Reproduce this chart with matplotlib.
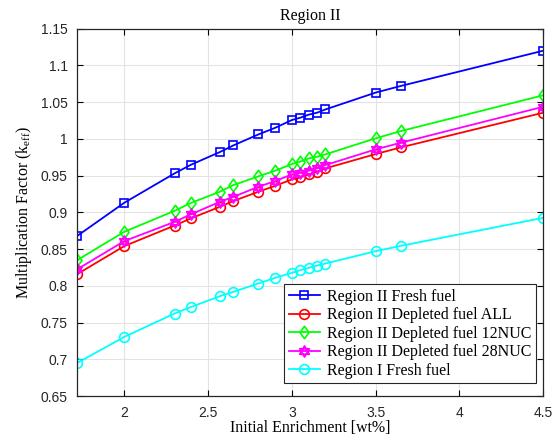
import numpy as np
import matplotlib
matplotlib.use('Agg')
import matplotlib.pyplot as plt
from matplotlib.path import Path
from matplotlib.ticker import FuncFormatter

# enrichment points (wt%)
enrich = [1.72, 2.0, 2.3, 2.4, 2.57, 2.65, 2.8, 2.9, 3.0, 3.05, 3.1, 3.15, 3.2, 3.5, 3.65, 4.5]

# k-eff for each case
r2_fresh = [0.868, 0.913, 0.953, 0.965, 0.982, 0.991, 1.006, 1.015, 1.0256, 1.0288,
            1.0329, 1.0356, 1.040, 1.063, 1.072, 1.120]
r2_dep_all = [0.816, 0.854, 0.882, 0.892, 0.9075, 0.9153, 0.928, 0.936, 0.9448, 0.9475,
              0.9516, 0.9552, 0.9598, 0.9793, 0.9884, 1.0356]
r2_dep_12 = [0.835, 0.8735, 0.902, 0.913, 0.928, 0.937, 0.949, 0.9566, 0.9657, 0.969,
             0.9734, 0.9756, 0.9789, 1.0007, 1.0106, 1.0593]
r2_dep_28 = [0.8226, 0.8608, 0.887, 0.8975, 0.9143, 0.921, 0.9348, 0.9425, 0.9516, 0.9538,
             0.9566, 0.9598, 0.9643, 0.9857, 0.9947, 1.0437]
r1_fresh = [0.695, 0.7304, 0.7622, 0.7713, 0.7858, 0.7917, 0.8031, 0.8108, 0.8176, 0.8212,
            0.8244, 0.8276, 0.8303, 0.8471, 0.8544, 0.8925]

labels = ['Region II Fresh fuel', 'Region II Depleted fuel ALL',
          'Region II Depleted fuel 12NUC', 'Region II Depleted fuel 28NUC',
          'Region I Fresh fuel']

# hexagram marker: two overlapping triangles
a = np.pi / 2 + np.array([0, 2, 4]) * np.pi / 3
up = np.column_stack([np.cos(a), np.sin(a)])
dn = -up
hexv = np.vstack([up, up[:1], dn, dn[:1]])
hexc = [Path.MOVETO, Path.LINETO, Path.LINETO, Path.CLOSEPOLY] * 2
hexagram = Path(hexv, hexc)

diamond = Path([(0, 1), (0.72, 0), (0, -1), (-0.72, 0), (0, 1)],
               [Path.MOVETO, Path.LINETO, Path.LINETO, Path.LINETO, Path.CLOSEPOLY])

serif = 'Liberation Serif'
plt.rcParams['font.family'] = 'Liberation Sans'

fig = plt.figure(figsize=(5.59, 4.44), dpi=100)
ax = fig.add_axes([0.1383, 0.1081, 0.8334, 0.8273])

series = [(r2_fresh, (0, 0, 1), 's', 6), (r2_dep_all, (1, 0, 0), 'o', 7),
          (r2_dep_12, (0, 1, 0), diamond, 9), (r2_dep_28, (1, 0, 1), hexagram, 8),
          (r1_fresh, (0, 1, 1), 'o', 7)]
for (y, c, m, ms), lab in zip(series, labels):
    ax.plot(enrich, y, color=c, marker=m, ms=ms, mfc='none', mec=c, mew=1.2,
            lw=1.3, label=lab)

ax.set_xlim(1.72, 4.5)
ax.set_ylim(0.65, 1.15)
ax.set_xticks([2, 2.5, 3, 3.5, 4, 4.5])
ax.set_yticks(np.arange(0.65, 1.1501, 0.05))
fmt = FuncFormatter(lambda v, p: '%g' % round(v, 2))
ax.xaxis.set_major_formatter(fmt)
ax.yaxis.set_major_formatter(fmt)
ax.tick_params(direction='in', top=True, right=True, length=4, width=0.8,
               labelsize=10, labelcolor='#262626', pad=7)
ax.grid(True, color='#e3e3e3', lw=0.8)
ax.set_axisbelow(True)
for s in ax.spines.values():
    s.set_linewidth(0.9)
    s.set_color('#262626')

ax.set_title('Region II', family=serif, fontsize=11.5, pad=6)
ax.set_xlabel('Initial Enrichment [wt%]', family=serif, fontsize=11.5, labelpad=0)
ax.set_ylabel('Multiplication Factor (k$_{\\mathregular{eff}}$)', family=serif,
              fontsize=11.5, labelpad=4.5)

leg = ax.legend(loc='lower right', bbox_to_anchor=(0.9846, 0.0346),
                prop={'family': serif, 'size': 11.5}, fancybox=False,
                edgecolor='#262626', framealpha=1, borderpad=0.3,
                labelspacing=0.15, handlelength=2.0, handletextpad=0.4,
                borderaxespad=0)
leg.get_frame().set_linewidth(0.8)

fig.savefig('out.png', dpi=100)
